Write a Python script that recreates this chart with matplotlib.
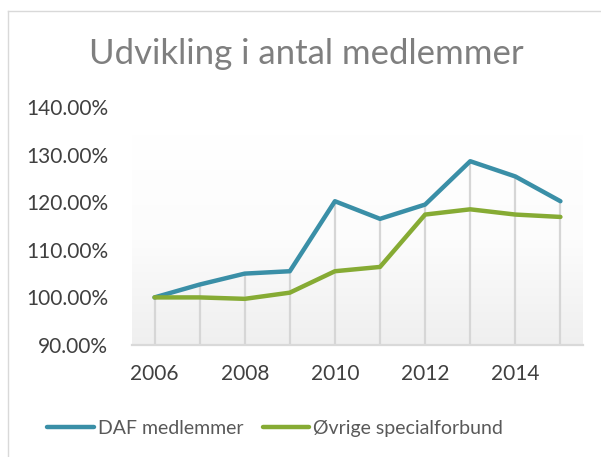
import numpy as np
import matplotlib
matplotlib.use('Agg')
import matplotlib.pyplot as plt
from matplotlib.lines import Line2D

# Data
years = [2006, 2007, 2008, 2009, 2010, 2011, 2012, 2013, 2014, 2015]
daf = [100.0, 102.7, 105.0, 105.5, 120.2, 116.5, 119.5, 128.6, 125.4, 120.2]
ovrige = [100.0, 100.0, 99.7, 101.0, 105.5, 106.4, 117.4, 118.5, 117.4, 116.9]
labels = ['DAF medlemmer', 'Øvrige specialforbund']
yticks = [90, 100, 110, 120, 130, 140]
xticks = [2006, 2008, 2010, 2012, 2014]

blue = '#3a8fa7'
green = '#86ab34'

plt.rcParams['font.family'] = ['Lato', 'DejaVu Sans']

fig = plt.figure(figsize=(6.01, 4.57), dpi=100)
ax = fig.add_axes([0.2196, 0.245, 0.7504, 0.521])

# Gradient plot area background (white top -> light grey bottom)
grad = np.linspace(0, 1, 256).reshape(-1, 1)
cmap = matplotlib.colors.LinearSegmentedColormap.from_list('bg', ['#ffffff', '#fcfcfc', '#efefef'])
ax.imshow(grad, extent=[2005.5, 2015.5, 90, 134], aspect='auto', cmap=cmap, zorder=0)

# Drop lines from axis to the highest series
tops = [max(a, b) for a, b in zip(daf, ovrige)]
ax.vlines(years, 90, tops, color='#d6d6d6', lw=1.6, zorder=1)

ax.plot(years, daf, color=blue, lw=3.2, solid_capstyle='round', solid_joinstyle='round', zorder=3)
ax.plot(years, ovrige, color=green, lw=3.2, solid_capstyle='round', solid_joinstyle='round', zorder=3)

ax.set_xlim(2005.5, 2015.5)
ax.set_ylim(90, 140)
ax.set_yticks(yticks)
ax.set_yticklabels([f'{v:.2f}%' for v in yticks])
ax.set_xticks(xticks)
ax.set_xticklabels([str(x) for x in xticks])
ax.tick_params(length=0, labelsize=15, colors='#404040')
ax.tick_params(axis='y', pad=17)
ax.tick_params(axis='x', pad=14)
for s in ['top', 'right', 'left']:
    ax.spines[s].set_visible(False)
ax.spines['bottom'].set_color('#d9d9d9')
ax.spines['bottom'].set_linewidth(1.6)

fig.text(0.51, 0.882, 'Udvikling i antal medlemmer', ha='center', va='center',
         fontsize=25, color='#7f7f7f')

handles = [Line2D([], [], color=blue, lw=3.2, solid_capstyle='round'),
           Line2D([], [], color=green, lw=3.2, solid_capstyle='round')]
fig.legend(handles, labels, loc='center', bbox_to_anchor=(0.458, 0.062), ncol=2,
           frameon=False, fontsize=14, labelcolor='#595959', handlelength=2.4,
           handletextpad=0.2, columnspacing=1.0)

# Chart border (light grey, left and top)
fig.add_artist(Line2D([8 / 601, 8 / 601], [0, 1 - 11 / 457], color='#d9d9d9', lw=1))
fig.add_artist(Line2D([8 / 601, 1], [1 - 11 / 457, 1 - 11 / 457], color='#d9d9d9', lw=1))

fig.savefig('out.png', dpi=100)
